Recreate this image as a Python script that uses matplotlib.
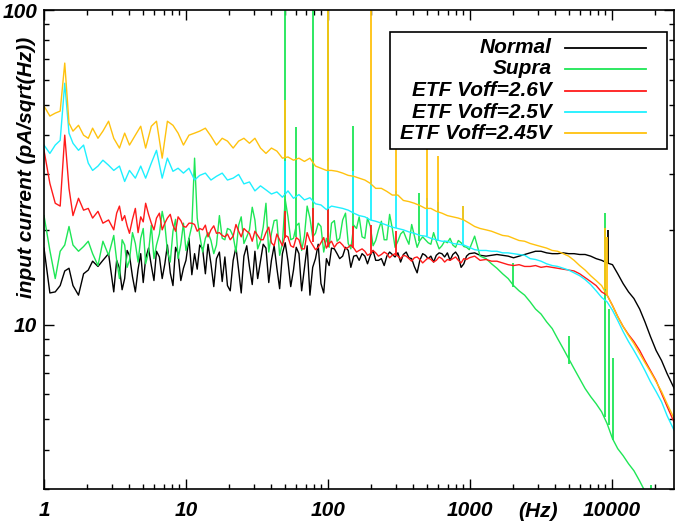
import numpy as np
import matplotlib
matplotlib.use("Agg")
import matplotlib.pyplot as plt
from matplotlib.ticker import NullFormatter, LogLocator
from matplotlib.patches import Rectangle

# -------------------------------------------
# Noise spectra
# -------------------------------------------

freq = [1.0, 1.1, 1.2, 1.3, 1.4, 1.5, 1.6, 1.75, 1.9, 2.05, 2.2, 2.4, 2.6, 2.85,
        3.1, 3.4, 3.7, 4.0, 4.4, 4.8, 5.2, 5.7, 6.2, 6.8, 7.4, 8.1, 8.8, 9.6,
        10.5, 11.5, 12.5, 13.7, 15, 16.4, 18, 19.6, 21.5, 23.5, 25.6, 28, 30.6,
        33.5, 36.6, 40, 43.7, 47.8, 52.3, 57.2, 62.5, 68.3, 74.7, 81.7, 89.3, 97.6,
        106, 116, 127, 139, 152, 166, 182, 199, 217, 238, 260, 284, 311, 340,
        372, 406, 444, 486, 531, 580, 635, 694, 758, 829, 906, 990,
        1080, 1180, 1300, 1420, 1550, 1700, 1860, 2030, 2220, 2430, 2660, 2900,
        3170, 3470, 3800, 4150, 4540, 4960, 5420, 5930, 6480, 7090, 7750, 8470, 9260,
        10100, 11000, 12000, 13100, 14300, 15700, 17100, 18700, 20500, 22400, 24500, 27500]

normal = [17.5, 12.6, 12.7, 13.3, 14.8, 15.1, 13.3, 12.4, 14.5, 14.9, 15.9, 15.3, 16.0, 16.8,
          12.7, 15.1, 14.0, 16.6, 12.7, 16.8, 16.2, 15.4, 17.1, 14.0, 17.9, 13.3, 16.8, 15.1,
          18.8, 16.8, 17.9, 14.5, 15.6, 16.2, 13.7, 13.3, 16.0, 14.9, 16.5, 15.3, 17.1,
          15.9, 17.5, 16.0, 15.1, 16.8, 15.9, 14.9, 16.8, 15.1, 12.4, 16.2, 13.5, 16.2,
          17.5, 16.8, 16.5, 17.2, 16.5, 16.0, 16.5, 16.6, 16.0, 16.2, 16.5, 16.7, 16.9, 16.7,
          16.3, 15.3, 16.0, 16.6, 16.5, 16.6, 16.8, 16.9, 16.7, 16.5, 15.6, 16.8,
          16.9, 16.6, 16.5, 16.6, 16.7, 16.6, 16.5, 16.3, 16.5, 16.7, 16.9, 17.1,
          17.1, 16.9, 16.8, 16.8, 16.9, 16.8, 16.8, 16.7, 16.7, 16.5, 16.2, 16.0, 15.7,
          15.5, 14.5, 13.5, 12.7, 12.1, 11.2, 10.2, 9.16, 8.27, 7.68, 6.98, 6.26]

supra = [22.2, 17.2, 14.0, 17.1, 17.9, 20.5, 17.9, 17.1, 17.7, 18.4, 16.8, 15.4, 18.4, 16.6,
         19.2, 14.0, 17.9, 16.0, 18.1, 18.8, 15.6, 20.7, 17.9, 22.9, 17.1, 19.8, 16.2, 21.0,
         18.8, 33.8, 19.2, 18.8, 18.5, 17.9, 18.8, 20.2, 19.1, 20.7, 18.1, 20.0, 21.5,
         18.4, 24.3, 19.5, 21.5, 18.1, 22.0, 18.8, 21.0, 19.1, 21.8, 19.5, 20.5, 18.8,
         21.0, 18.4, 21.5, 18.1, 20.7, 22.0, 18.8, 20.5, 18.5, 21.3, 18.6, 20.2, 18.4, 19.8,
         18.0, 19.2, 18.5, 18.6, 18.0, 18.4, 17.8, 18.2, 17.9, 18.5, 17.7, 17.3,
         19.1, 16.5, 16.2, 15.6, 15.1, 14.5, 14.0, 13.3, 12.8, 12.4, 11.8, 11.2,
         10.8, 10.2, 9.71, 9.02, 8.39, 7.79, 7.24, 6.73, 6.26, 5.90, 5.60, 5.28, 4.84,
         4.34, 4.03, 3.83, 3.61, 3.43, 3.18, 2.95, 2.79, 2.67, 2.56, 2.45, 2.33]

etf_26 = [35.8, 28.1, 24.3, 23.8, 40.0, 27.1, 22.2, 25.2, 23.1, 23.4, 21.8, 22.9, 21.0, 21.5,
          20.0, 23.8, 22.2, 19.5, 23.4, 22.0, 24.3, 21.0, 21.8, 20.0, 21.8, 20.7, 22.0, 20.5,
          21.0, 20.8, 20.2, 20.7, 20.0, 19.5, 19.2, 19.4, 19.1, 19.8, 20.2, 19.5, 19.8,
          18.6, 19.6, 18.2, 19.4, 17.8, 19.0, 17.6, 18.6, 17.4, 18.5, 17.3, 18.2, 17.5,
          18.4, 18.1, 17.9, 17.6, 17.5, 17.2, 17.1, 16.8, 16.9, 16.7, 16.8, 16.6, 16.5, 16.6,
          16.2, 16.3, 16.1, 16.0, 16.1, 16.0, 16.2, 16.1, 16.2, 16.0, 16.2, 16.3,
          16.5, 16.0, 16.1, 15.9, 15.9, 15.7, 15.5, 15.4, 15.5, 15.3, 15.3, 15.4,
          15.2, 15.3, 15.2, 15.1, 15.0, 14.9, 14.8, 14.5, 14.1, 13.7, 13.3, 12.7, 12.4,
          11.5, 10.6, 9.86, 9.29, 8.83, 8.27, 7.68, 7.14, 6.63, 6.03, 5.49, 4.88]

etf_25 = [37.2, 35.0, 37.2, 38.5, 58.5, 40.6, 37.7, 35.8, 37.2, 32.6, 30.9, 31.9, 33.3, 32.1,
          30.9, 31.9, 28.5, 30.9, 29.2, 31.9, 29.2, 32.6, 35.8, 29.2, 33.8, 30.7, 31.4, 30.3,
          31.4, 28.8, 29.8, 30.3, 28.8, 29.6, 30.3, 28.8, 29.2, 30.0, 28.0, 28.4, 26.6,
          27.6, 26.8, 26.0, 26.4, 25.4, 26.6, 25.2, 25.9, 24.9, 25.3, 24.2, 24.0, 23.2,
          23.8, 23.6, 23.4, 23.1, 22.6, 22.2, 22.0, 21.5, 21.3, 21.0, 20.7, 20.4, 20.2, 20.0,
          19.7, 19.5, 19.2, 19.1, 18.8, 18.6, 18.4, 18.4, 18.1, 18.0, 17.9, 17.6,
          17.3, 17.2, 17.2, 17.1, 17.1, 16.9, 16.9, 16.8, 16.7, 16.6, 16.2, 16.1,
          15.9, 15.6, 15.4, 15.3, 15.1, 14.9, 14.6, 14.3, 13.9, 13.4, 12.8, 12.2, 11.8,
          11.1, 10.3, 9.50, 8.83, 8.27, 7.68, 7.14, 6.58, 6.12, 5.68, 5.13, 4.60]

etf_245 = [49.5, 46.0, 47.0, 47.7, 67.8, 43.7, 41.2, 43.0, 40.0, 39.1, 42.1, 39.1, 41.2, 44.3,
           39.1, 36.4, 40.6, 37.2, 40.0, 42.7, 36.4, 42.7, 44.3, 33.8, 44.3, 43.0, 40.6, 37.2,
           40.0, 40.6, 41.2, 42.1, 39.7, 37.2, 39.1, 38.3, 36.4, 38.3, 39.1, 37.7, 39.1,
           36.4, 35.0, 36.4, 35.6, 33.8, 34.1, 33.3, 33.8, 33.0, 33.8, 31.9, 31.4, 30.9,
           30.9, 30.7, 30.3, 29.8, 29.6, 29.2, 28.8, 28.1, 27.1, 27.1, 26.5, 25.8, 25.8, 24.8,
           24.6, 24.3, 23.9, 23.4, 23.4, 22.9, 22.6, 22.2, 22.0, 21.8, 21.5, 21.0,
           20.5, 20.2, 20.0, 19.8, 19.5, 19.2, 19.1, 18.8, 18.5, 18.4, 18.1, 17.9,
           17.7, 17.5, 17.2, 17.1, 16.8, 16.5, 16.0, 15.4, 14.9, 14.3, 13.8, 13.3, 12.4,
           11.5, 10.6, 9.86, 9.23, 8.70, 8.09, 7.57, 7.08, 6.58, 6.12, 5.60, 5.02]

# extra readings in the noisy 3-1000 Hz band (Normal, Supra, ETF 2.6V only)
freq_mid = [3.25, 3.55, 3.85, 4.2, 4.6, 5.0, 5.45, 5.95, 6.5, 7.1, 7.75, 8.45, 9.2,
            10.0, 11.0, 12.0, 13.1, 14.3, 15.7, 17.2, 18.8, 20.5, 22.5, 24.5, 26.8, 29.3,
            32, 35, 38.3, 41.8, 45.7, 50, 54.7, 59.8, 65.3, 71.4, 78.1, 85.4, 93.4,
            102, 111, 121, 133, 145, 159, 174, 190, 208, 227, 249, 272, 297, 325, 356,
            389, 425, 465, 508, 555, 607, 664, 725, 793, 867, 947]

normal_mid = [16.0, 12.9, 17.2, 14.2, 15.0, 13.6, 17.5, 13.8, 16.4, 15.6, 14.6, 17.6, 13.8,
              16.0, 14.4, 15.0, 17.4, 18.0, 13.2, 17.0, 16.4, 12.8, 17.6, 12.6, 17.8, 13.4,
              14.0, 18.0, 13.6, 17.8, 13.0, 18.2, 13.2, 17.6, 12.8, 17.8, 15.2, 18.0, 12.6,
              15.4, 17.4, 16.2, 17.6, 15.2, 16.6, 16.8, 15.6, 17.2, 16.0, 15.4, 17.0, 16.4,
              15.8, 17.0, 16.2, 14.6, 16.8, 16.2, 15.8, 16.9, 16.4, 16.0, 17.0, 15.2, 16.5]

supra_mid = [16.0, 18.6, 15.2, 19.6, 15.8, 20.2, 17.0, 16.2, 19.4, 20.8, 15.8, 21.6, 18.0,
             17.2, 20.6, 21.8, 17.0, 19.6, 16.8, 22.2, 18.6, 20.0, 17.0, 22.0, 19.0, 23.6,
             17.4, 20.4, 17.0, 21.4, 16.6, 25.0, 18.6, 20.6, 17.2, 23.8, 19.0, 21.0, 17.0,
             17.6, 21.4, 18.8, 22.6, 17.4, 20.2, 19.0, 21.8, 17.8, 20.0, 18.6, 22.4, 17.6,
             19.4, 18.8, 20.8, 17.6, 19.0, 18.2, 19.6, 17.4, 18.4, 18.8, 17.6, 18.2, 17.6]

etf_26_mid = [22.6, 21.4, 20.6, 21.6, 19.6, 21.2, 22.4, 20.0, 22.6, 21.0, 22.4, 19.8, 21.4,
              20.4, 21.0, 19.8, 20.0, 19.0, 20.6, 19.6, 19.0, 18.6, 20.8, 19.0, 19.8, 18.4,
              19.2, 18.6, 20.4, 17.8, 18.6, 19.2, 17.8, 18.9, 17.4, 19.6, 17.9, 17.6, 18.9,
              18.1, 17.6, 18.3, 17.4, 17.9, 17.0, 17.4, 16.6, 17.2, 16.5, 17.0, 16.3, 16.8,
              16.2, 16.5, 15.9, 16.4, 15.7, 16.3, 15.8, 16.4, 15.8, 16.0, 16.4, 15.7, 16.1]

# pickup lines (Hz), bottom and top of each spike
normal_spk_f = [9400]
normal_spk_lo = [15.7]
normal_spk_hi = [20.0]

supra_spk_f = [50, 60, 78, 100, 150, 440, 2000, 5000, 8900, 9500, 10150, 19000]
supra_spk_lo = [19.0, 19.0, 19.5, 19.0, 20.5, 18.4, 13.2, 7.5, 5.1, 4.8, 4.3, 2.7]
supra_spk_hi = [150, 42.4, 150, 150, 42.7, 26.1, 15.7, 9.2, 22.6, 11.2, 7.8, 3.1]

etf_26_spk_f = [50, 78, 100, 150, 200, 300]
etf_26_spk_lo = [18.8, 18.3, 17.7, 17.5, 16.8, 16.5]
etf_26_spk_hi = [22.9, 23.4, 23.4, 20.5, 20.7, 19.8]

etf_25_spk_f = [50, 100, 150, 200, 300, 500, 600, 900]
etf_25_spk_lo = [26.1, 23.4, 22.6, 21.5, 20.2, 19.1, 18.5, 17.9]
etf_25_spk_hi = [33.0, 33.0, 30.7, 30.9, 26.5, 25.2, 24.6, 23.9]

etf_245_spk_f = [50, 100, 200, 300, 500, 600, 900, 8900, 9300]
etf_245_spk_lo = [33.8, 30.9, 28.1, 25.8, 23.4, 22.8, 21.5, 13.0, 12.4]
etf_245_spk_hi = [51.6, 150, 150, 55.6, 36.9, 34.3, 23.9, 20.2, 19.0]

labels = ["Normal", "Supra", "ETF Voff=2.6V", "ETF Voff=2.5V", "ETF Voff=2.45V"]
colors = ["black", "#1ee655", "#ff1a1a", "#1ef0ff", "#ffc20e"]


def merged(vals, extra):
    # put the extra readings in frequency order with the main ones
    f = np.array(freq + freq_mid if extra else freq, dtype=float)
    v = np.array(vals + extra if extra else vals, dtype=float)
    order = np.argsort(f)
    return f[order], v[order]


# -------------
# Drawing
# -------------

font = {"family": "Liberation Sans", "weight": "bold", "style": "italic"}

fig = plt.figure(figsize=(6.75, 5.26), dpi=100)
ax = fig.add_axes([44 / 675, 37 / 526, 630 / 675, 479 / 526])

series = [(normal, normal_mid, normal_spk_f, normal_spk_lo, normal_spk_hi),
          (supra, supra_mid, supra_spk_f, supra_spk_lo, supra_spk_hi),
          (etf_26, etf_26_mid, etf_26_spk_f, etf_26_spk_lo, etf_26_spk_hi),
          (etf_25, None, etf_25_spk_f, etf_25_spk_lo, etf_25_spk_hi),
          (etf_245, None, etf_245_spk_f, etf_245_spk_lo, etf_245_spk_hi)]

for (vals, extra, sf, slo, shi), col in zip(series, colors):
    f, v = merged(vals, extra)
    ax.plot(f, v, color=col, lw=1.0)
    ax.vlines(sf, slo, shi, color=col, lw=1.3)

ax.set_xscale("log")
ax.set_yscale("log")
ax.set_xlim(1, 27400)
ax.set_ylim(3.0, 100)

ax.set_xticks([1, 10, 100, 1000, 10000])
ax.set_xticklabels(["1", "10", "100", "1000", "10000"], fontdict=font, fontsize=15)
ax.set_yticks([10, 100])
ax.set_yticklabels(["10", "100"], fontdict=font, fontsize=15)
ax.xaxis.set_minor_locator(LogLocator(base=10, subs=np.arange(2, 10), numticks=20))
ax.yaxis.set_minor_locator(LogLocator(base=10, subs=np.arange(2, 10), numticks=20))
ax.xaxis.set_minor_formatter(NullFormatter())
ax.yaxis.set_minor_formatter(NullFormatter())
ax.tick_params(which="both", direction="in", top=True, right=True, width=1.0)
ax.tick_params(which="major", length=7.5)
ax.tick_params(which="minor", length=3.8)
ax.tick_params(axis="x", which="major", pad=9)
ax.tick_params(axis="y", which="major", pad=5)
for sp in ax.spines.values():
    sp.set_linewidth(1.2)

ax.text((538 - 44) / 630, -0.047, "(Hz)", transform=ax.transAxes, ha="center", va="center",
        fontdict=font, fontsize=15)
ax.text(-0.027, (489 - 167) / 479, "input current (pA/sqrt(Hz))", transform=ax.transAxes,
        rotation=90, ha="center", va="center", fontdict=font, fontsize=15)

# legend drawn by hand: labels right-aligned, sample lines on the right
ax.add_patch(Rectangle((0.549, 0.710), 0.44, 0.244, transform=ax.transAxes,
                       fill=True, facecolor="white", edgecolor="black", lw=1.2, zorder=5))
row_y = [0.921, 0.877, 0.831, 0.787, 0.743]
for lab, col, yy in zip(labels, colors, row_y):
    ax.text(0.806, yy, lab, transform=ax.transAxes, ha="right", va="center",
            fontdict=font, fontsize=15, zorder=6)
    ax.plot([0.827, 0.956], [yy, yy], transform=ax.transAxes, color=col, lw=1.3, zorder=6)

fig.savefig("out.png", dpi=100)
